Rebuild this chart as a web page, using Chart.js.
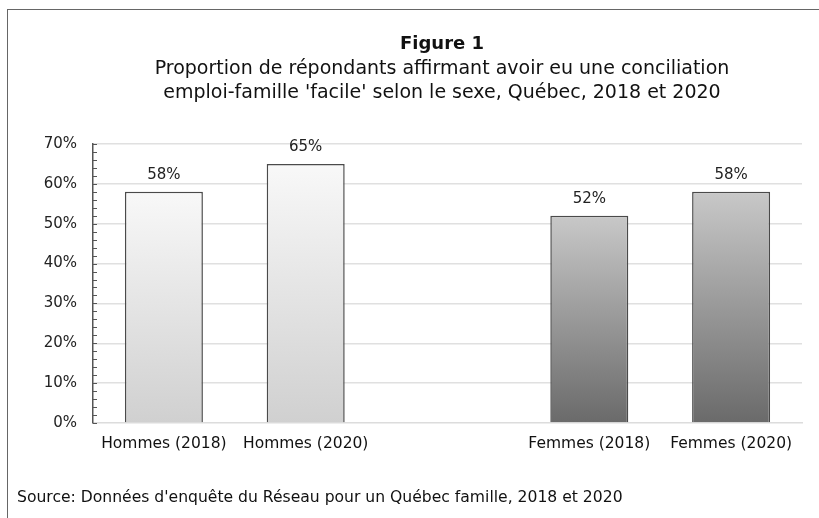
<!DOCTYPE html>
<html lang="fr">
<head>
<meta charset="utf-8">
<script src="https://cdn.jsdelivr.net/npm/chart.js@4.4.0/dist/chart.umd.min.js"></script>
<style>
  html, body { margin: 0; padding: 0; background: #fff; }
  #wrap { position: relative; width: 819px; height: 518px; overflow: hidden; font-family: "DejaVu Sans", Verdana, sans-serif; color: #111; }
  #frame { position: absolute; left: 7px; top: 9px; width: 900px; height: 600px; border: 1px solid #666; }
  #titre { position: absolute; left: 0; width: 884px; top: 31px; text-align: center; }
  #titre .fig { font-weight: bold; font-size: 18px; line-height: 24px; }
  #titre .sous { font-size: 19px; line-height: 24px; }
  #source { position: absolute; left: 17px; top: 488px; font-size: 15.6px; }
  canvas { position: absolute; left: 0; top: 0; }
</style>
</head>
<body>
<div id="wrap">
  <div id="frame"></div>
  <canvas id="graphique" width="819" height="518"></canvas>
  <div id="titre">
    <div class="fig">Figure 1</div>
    <div class="sous">Proportion de répondants affirmant avoir eu une conciliation<br>emploi-famille 'facile' selon le sexe, Québec, 2018 et 2020</div>
  </div>
  <div id="source">Source: Données d'enquête du Réseau pour un Québec famille, 2018 et 2020</div>
</div>
<script>
// Données (la case vide sert d'espace entre hommes et femmes)
const categories = ['Hommes (2018)', 'Hommes (2020)', '', 'Femmes (2018)', 'Femmes (2020)'];
const valeurs = [58, 65, null, 52, 58];
const groupe = ['h', 'h', null, 'f', 'f'];

// Dégradés par barre : clair pour les hommes, foncé pour les femmes
const degrades = {
    h: ['#f8f8f8', '#d0d0d0'],
    f: ['#c8c8c8', '#6a6a6a']
};

function couleurBarre(context) {
    const chart = context.chart;
    const g = groupe[context.dataIndex];
    if (!g) return 'transparent';
    const y = chart.scales && chart.scales.y;
    if (!chart.chartArea || !y) return degrades[g][1];
    const haut = y.getPixelForValue(valeurs[context.dataIndex]);
    const bas = y.getPixelForValue(0);
    const grad = chart.ctx.createLinearGradient(0, haut, 0, bas);
    grad.addColorStop(0, degrades[g][0]);
    grad.addColorStop(1, degrades[g][1]);
    return grad;
}

// Étiquettes de valeur au-dessus des barres
const etiquettes = {
    id: 'etiquettes',
    afterDatasetsDraw(chart) {
        const ctx = chart.ctx;
        const meta = chart.getDatasetMeta(0);
        ctx.save();
        ctx.font = '15px "DejaVu Sans", Verdana, sans-serif';
        ctx.fillStyle = '#222';
        ctx.textAlign = 'center';
        ctx.textBaseline = 'bottom';
        meta.data.forEach((bar, i) => {
            if (valeurs[i] == null) return;
            ctx.fillText(valeurs[i] + '%', bar.x, bar.y - 9);
        });
        ctx.restore();
    }
};

// Petites graduations vers l'intérieur sur l'axe vertical (tous les 2 %)
const graduations = {
    id: 'graduations',
    afterDraw(chart) {
        const y = chart.scales.y;
        const x0 = chart.chartArea.left;
        const ctx = chart.ctx;
        ctx.save();
        ctx.strokeStyle = '#555';
        ctx.lineWidth = 1;
        y.ticks.forEach(t => {
            const py = Math.round(y.getPixelForValue(t.value)) + 0.5;
            ctx.beginPath();
            ctx.moveTo(x0, py);
            ctx.lineTo(x0 + 4, py);
            ctx.stroke();
        });
        ctx.restore();
    }
};

new Chart(document.getElementById('graphique'), {
    type: 'bar',
    data: {
        labels: categories,
        datasets: [{
            data: valeurs,
            backgroundColor: couleurBarre,
            borderColor: '#4a4a4a',
            borderWidth: 1.5,
            barPercentage: 0.55,
            categoryPercentage: 1
        }]
    },
    options: {
        responsive: false,
        animation: false,
        layout: { padding: { left: 0, top: 144, right: 17, bottom: 55 } },
        plugins: {
            legend: { display: false },
            tooltip: { enabled: false }
        },
        scales: {
            x: {
                grid: { display: false },
                border: { display: true, color: '#dcdcdc', width: 1.5 },
                ticks: {
                    color: '#111',
                    font: { family: '"DejaVu Sans", Verdana, sans-serif', size: 15.5 },
                    maxRotation: 0,
                    autoSkip: false,
                    padding: 4
                },
                afterFit(scale) { scale.height = 40; }
            },
            y: {
                min: 0,
                max: 70,
                ticks: {
                    stepSize: 2,
                    autoSkip: false,
                    color: '#222',
                    padding: 16,
                    font: { family: '"DejaVu Sans", Verdana, sans-serif', size: 15 },
                    callback: v => (v % 10 === 0 ? v + '%' : '')
                },
                grid: {
                    drawTicks: false,
                    lineWidth: 1.5,
                    color: ctx => (ctx.tick && ctx.tick.value % 10 === 0 && ctx.tick.value !== 0 ? '#e0e0e0' : 'transparent')
                },
                border: { display: true, color: '#555', width: 1.5 },
                afterFit(scale) { scale.width = 93; }
            }
        }
    },
    plugins: [etiquettes, graduations]
});
</script>
</body>
</html>
